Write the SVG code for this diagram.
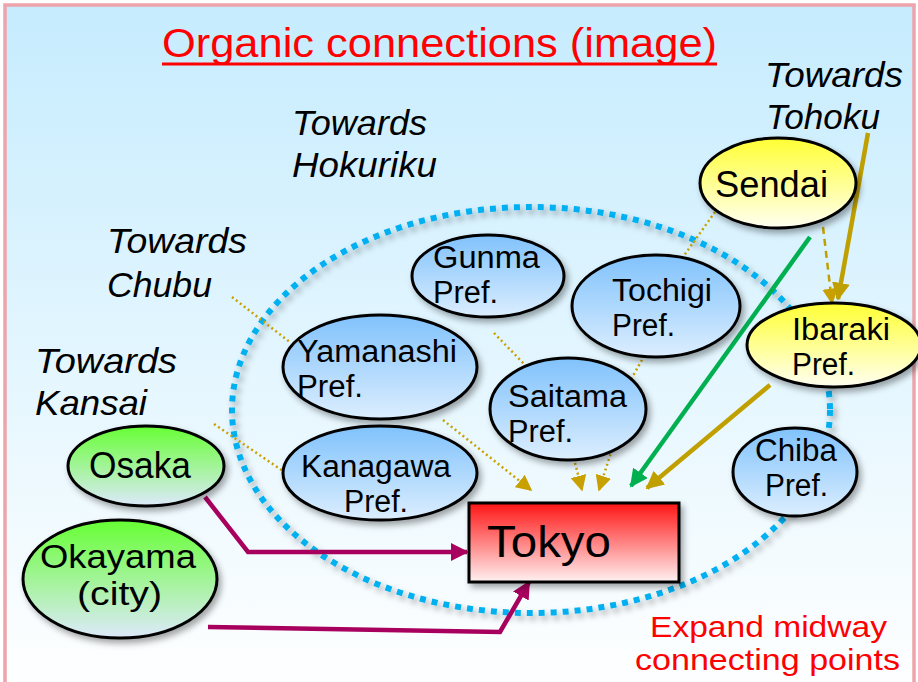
<svg xmlns="http://www.w3.org/2000/svg" width="918" height="682" viewBox="0 0 918 682">
<defs>
<style>
text{font-family:"Liberation Sans",Arimo,Arial,sans-serif;fill:#000}
.it{font-style:italic;font-size:35px}
.pf{font-size:31px}
.ct{font-size:36px}
.el{stroke:#000;stroke-width:3;filter:url(#sh)}
.dot{fill:none;stroke:#c8a000;stroke-width:2.5;stroke-dasharray:2 3}
.gold{fill:none;stroke:#c0a000;stroke-width:4.5}
.mag{fill:none;stroke:#a8005e;stroke-width:4.5}
.red{fill:#ff0000}
</style>
<linearGradient id="bg" x1="0" y1="0" x2="0" y2="1"><stop offset="0" stop-color="#c6ecfe"/><stop offset="1" stop-color="#ffffff"/></linearGradient>
<linearGradient id="gb" x1="0" y1="0" x2="0" y2="1"><stop offset="0" stop-color="#80c2fc"/><stop offset="1" stop-color="#dceefe"/></linearGradient>
<linearGradient id="gy" x1="0" y1="0" x2="0" y2="1"><stop offset="0" stop-color="#ffff33"/><stop offset="1" stop-color="#fffff2"/></linearGradient>
<linearGradient id="gg" x1="0" y1="0" x2="0" y2="1"><stop offset="0" stop-color="#66ff33"/><stop offset="1" stop-color="#dde9fb"/></linearGradient>
<linearGradient id="gr" x1="0" y1="0" x2="0" y2="1"><stop offset="0" stop-color="#ff1414"/><stop offset="1" stop-color="#fff2f2"/></linearGradient>
<filter id="sh" x="-20%" y="-20%" width="150%" height="150%"><feDropShadow dx="3" dy="4" stdDeviation="3" flood-color="#000" flood-opacity="0.35"/></filter>
<marker id="ag" viewBox="0 0 10 10" refX="9" refY="5" markerWidth="16" markerHeight="16" markerUnits="userSpaceOnUse" orient="auto"><path d="M0,0 L10,5 L0,10 z" fill="#c8a000"/></marker>
<marker id="agb" viewBox="0 0 10 10" refX="9" refY="5" markerWidth="18" markerHeight="18" markerUnits="userSpaceOnUse" orient="auto"><path d="M0,0 L10,5 L0,10 z" fill="#c0a000"/></marker>
<marker id="agr" viewBox="0 0 10 10" refX="9" refY="5" markerWidth="18" markerHeight="18" markerUnits="userSpaceOnUse" orient="auto"><path d="M0,0 L10,5 L0,10 z" fill="#00b050"/></marker>
<marker id="am" viewBox="0 0 10 10" refX="9" refY="5" markerWidth="18" markerHeight="18" markerUnits="userSpaceOnUse" orient="auto"><path d="M0,0 L10,5 L0,10 z" fill="#a8005e"/></marker>
</defs>
<rect x="5" y="5" width="909" height="690" fill="url(#bg)" stroke="#eda4aa" stroke-width="3.5"/>
<g id="title">
<text x="162" y="57" font-size="40" class="red" textLength="555" lengthAdjust="spacingAndGlyphs">Organic connections (image)</text>
<rect x="162" y="62.5" width="555" height="3" fill="#ff0000"/>
</g>
<g id="labels">
<text class="it"><tspan x="292" y="135" textLength="135" lengthAdjust="spacingAndGlyphs">Towards</tspan><tspan x="292" y="177" textLength="145" lengthAdjust="spacingAndGlyphs">Hokuriku</tspan></text>
<text class="it"><tspan x="107" y="253" textLength="140" lengthAdjust="spacingAndGlyphs">Towards</tspan><tspan x="107" y="297" textLength="105" lengthAdjust="spacingAndGlyphs">Chubu</tspan></text>
<text class="it"><tspan x="35" y="373" textLength="142" lengthAdjust="spacingAndGlyphs">Towards</tspan><tspan x="35" y="415" textLength="112" lengthAdjust="spacingAndGlyphs">Kansai</tspan></text>
<text class="it"><tspan x="765" y="87" textLength="138" lengthAdjust="spacingAndGlyphs">Towards</tspan><tspan x="766" y="129" textLength="114" lengthAdjust="spacingAndGlyphs">Tohoku</tspan></text>
</g>
<ellipse id="region" cx="531" cy="410" rx="299" ry="203" fill="none" stroke="#00b0f0" stroke-width="6" stroke-dasharray="6 6" filter="url(#sh)"/>
<g id="connectors">
<line class="dot" x1="232" y1="297" x2="291" y2="343"/>
<line class="dot" x1="214" y1="424" x2="283" y2="471"/>
<line class="dot" x1="494" y1="333" x2="526" y2="366"/>
<line class="dot" x1="715" y1="212" x2="683" y2="257"/>
<line class="dot" x1="642" y1="360" x2="630" y2="381"/>
<line class="dot" x1="443" y1="420" x2="531" y2="490" marker-end="url(#ag)"/>
<line class="dot" x1="575" y1="463" x2="582" y2="490" marker-end="url(#ag)"/>
<line class="dot" x1="615" y1="440" x2="599" y2="490" marker-end="url(#ag)"/>
<line fill="none" stroke="#c0a000" stroke-width="2.5" stroke-dasharray="7 5" x1="823" y1="227" x2="832" y2="303" marker-end="url(#ag)"/>
<line class="gold" x1="868" y1="133" x2="838" y2="299" marker-end="url(#agb)"/>
<line fill="none" stroke="#00b050" stroke-width="4.5" x1="810" y1="237" x2="631" y2="486" marker-end="url(#agr)"/>
<line class="gold" x1="770" y1="385" x2="647" y2="488" marker-end="url(#agb)"/>
<polyline class="mag" points="205,497 248,552 467,552" marker-end="url(#am)"/>
<polyline class="mag" points="208,627 500,632 529,582" marker-end="url(#am)"/>
</g>
<g id="sendai"><ellipse class="el" cx="778" cy="183" rx="78" ry="45" fill="url(#gy)"/><text class="ct" x="715" y="197" textLength="113" lengthAdjust="spacingAndGlyphs">Sendai</text></g>
<g id="ibaraki"><ellipse class="el" cx="834" cy="345" rx="87" ry="42" fill="url(#gy)"/><text class="pf"><tspan x="792" y="340" textLength="98" lengthAdjust="spacingAndGlyphs">Ibaraki</tspan><tspan x="792" y="375" textLength="63" lengthAdjust="spacingAndGlyphs">Pref.</tspan></text></g>
<g id="tochigi"><ellipse class="el" cx="656" cy="306" rx="84" ry="51" fill="url(#gb)"/><text class="pf"><tspan x="612" y="301" textLength="100" lengthAdjust="spacingAndGlyphs">Tochigi</tspan><tspan x="612" y="336" textLength="63" lengthAdjust="spacingAndGlyphs">Pref.</tspan></text></g>
<g id="chiba"><ellipse class="el" cx="795" cy="472" rx="62" ry="44" fill="url(#gb)"/><text class="pf"><tspan x="755" y="461" textLength="82" lengthAdjust="spacingAndGlyphs">Chiba</tspan><tspan x="765" y="496" textLength="63" lengthAdjust="spacingAndGlyphs">Pref.</tspan></text></g>
<g id="gunma"><ellipse class="el" cx="488" cy="276" rx="76" ry="41" fill="url(#gb)"/><text class="pf"><tspan x="433" y="268" textLength="107" lengthAdjust="spacingAndGlyphs">Gunma</tspan><tspan x="433" y="303" textLength="65" lengthAdjust="spacingAndGlyphs">Pref.</tspan></text></g>
<g id="yamanashi"><ellipse class="el" cx="380" cy="367" rx="97" ry="52" fill="url(#gb)"/><text class="pf"><tspan x="297" y="362" textLength="160" lengthAdjust="spacingAndGlyphs">Yamanashi</tspan><tspan x="297" y="397" textLength="66" lengthAdjust="spacingAndGlyphs">Pref.</tspan></text></g>
<g id="saitama"><ellipse class="el" cx="568" cy="409" rx="78" ry="51" fill="url(#gb)"/><text class="pf"><tspan x="508" y="407" textLength="119" lengthAdjust="spacingAndGlyphs">Saitama</tspan><tspan x="508" y="442" textLength="65" lengthAdjust="spacingAndGlyphs">Pref.</tspan></text></g>
<g id="kanagawa"><ellipse class="el" cx="380" cy="473" rx="97" ry="47" fill="url(#gb)"/><text class="pf"><tspan x="301" y="477" textLength="150" lengthAdjust="spacingAndGlyphs">Kanagawa</tspan><tspan x="344" y="512" textLength="64" lengthAdjust="spacingAndGlyphs">Pref.</tspan></text></g>
<g id="osaka"><ellipse class="el" cx="146" cy="466" rx="78" ry="40" fill="url(#gg)"/><text class="ct" x="89" y="478" textLength="102" lengthAdjust="spacingAndGlyphs">Osaka</text></g>
<g id="okayama"><ellipse class="el" cx="120" cy="579" rx="97" ry="59" fill="url(#gg)"/><text font-size="33"><tspan x="40" y="568" textLength="156" lengthAdjust="spacingAndGlyphs">Okayama</tspan><tspan x="77" y="605" textLength="85" lengthAdjust="spacingAndGlyphs">(city)</tspan></text></g>
<g id="tokyo"><rect x="469" y="503" width="210" height="79" fill="url(#gr)" stroke="#000" stroke-width="3" filter="url(#sh)"/><text x="487" y="557" font-size="45" textLength="124" lengthAdjust="spacingAndGlyphs">Tokyo</text></g>
<g id="note">
<text class="red" font-size="29"><tspan x="650" y="637" textLength="237" lengthAdjust="spacingAndGlyphs">Expand midway</tspan><tspan x="635" y="670" textLength="265" lengthAdjust="spacingAndGlyphs">connecting points</tspan></text>
</g>
</svg>
